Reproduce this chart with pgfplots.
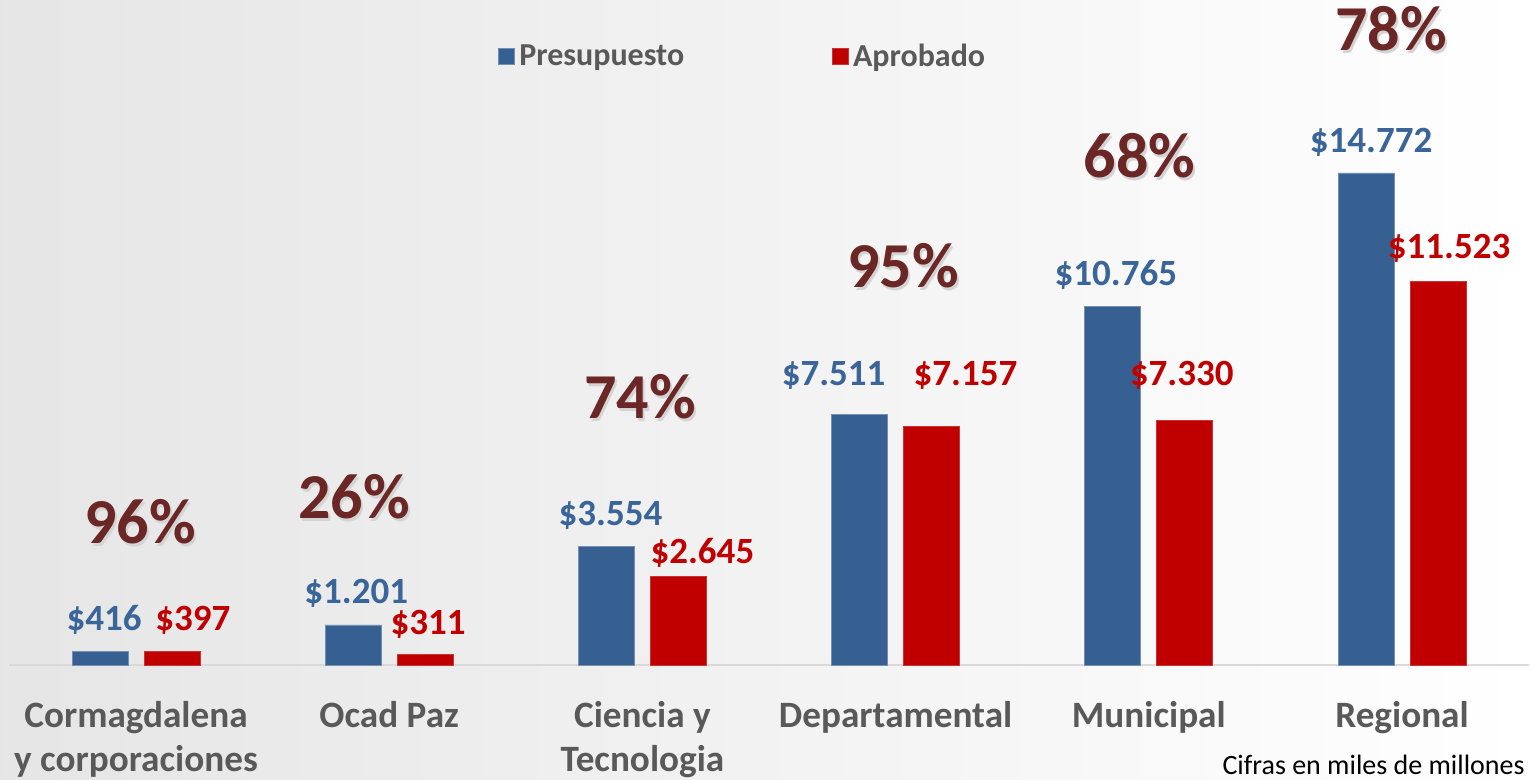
\documentclass[border=0pt]{standalone}
\usepackage{pgfplots}
\pgfplotsset{compat=1.18}
\usepackage{fontspec}
\setmainfont{Carlito}
\definecolor{cblue}{HTML}{376092}
\definecolor{cbluet}{HTML}{3A6598}
\definecolor{cred}{HTML}{C00000}
\definecolor{cpct}{HTML}{6B2626}
\definecolor{cgray}{HTML}{595959}
\tikzset{
  pct/.style={anchor=base, inner sep=0pt, font=\fontsize{32}{34}\selectfont\bfseries, text=cpct},
  pcts/.style={anchor=base, inner sep=0pt, font=\fontsize{32}{34}\selectfont\bfseries, text=black!17, xshift=1pt, yshift=-1.5pt},
  val/.style={anchor=base, inner sep=0pt, font=\fontsize{18.5}{20}\selectfont\bfseries},
}
\begin{document}
\begin{tikzpicture}
\shade[left color=black!10, right color=white] (-4.7pt,-57.5pt) rectangle (760.3pt,332.5pt);
\begin{axis}[
  at={(0,0)}, anchor=south west,
  scale only axis, width=759.6pt, height=332.5pt,
  xmin=-0.5, xmax=5.5, ymin=0, ymax=19966,
  clip=false,
  axis line style={draw=none},
  ytick=\empty,
  ybar=8pt, bar width=28pt,
  xtick={0,1,2,3,4,5},
  xticklabels={{Cormagdalena\\y corporaciones},{Ocad Paz},{Ciencia y\\Tecnologia},{Departamental},{Municipal},{Regional}},
  xticklabel style={align=center, anchor=north, inner sep=0pt, yshift=-18pt, text=cgray,
    font=\fontsize{18.6}{21.8}\selectfont\bfseries},
  xtick style={draw=none},
  major tick length=0pt,
  legend columns=2,
  legend style={at={(axis cs:1.43,18270)}, anchor=west, draw=none, fill=none, inner sep=0pt,
    font=\fontsize{16}{18}\selectfont\bfseries, text=cgray,
    /tikz/every even column/.append style={column sep=72pt}},
  legend image code/.code={\fill[#1] (0pt,-4pt) rectangle (8pt,4pt);},
]
\draw[black!15, line width=1pt] (axis cs:-0.5,0) -- (axis cs:5.5,0);
\addplot[fill=cblue, draw=cblue!70!white] coordinates {(0,416) (1,1201) (2,3554) (3,7511) (4,10765) (5,14772)};
\addplot[fill=cred, draw=cred!80!white] coordinates {(0,397) (1,311) (2,2645) (3,7157) (4,7330) (5,11523)};
\legend{Presupuesto, Aprobado}
\node[val, text=cbluet] at (axis cs:-0.126,1050) {\$416};
\node[val, text=cred] at (axis cs:0.225,1050) {\$397};
\node[val, text=cbluet] at (axis cs:0.870,1860) {\$1.201};
\node[val, text=cred] at (axis cs:1.154,930) {\$311};
\node[val, text=cbluet] at (axis cs:1.874,4200) {\$3.554};
\node[val, text=cred] at (axis cs:2.237,3060) {\$2.645};
\node[val, text=cbluet] at (axis cs:2.755,8400) {\$7.511};
\node[val, text=cred] at (axis cs:3.276,8400) {\$7.157};
\node[val, text=cbluet] at (axis cs:3.870,11400) {\$10.765};
\node[val, text=cred] at (axis cs:4.130,8400) {\$7.330};
\node[val, text=cbluet] at (axis cs:4.878,15390) {\$14.772};
\node[val, text=cred] at (axis cs:5.186,12210) {\$11.523};
\node[pcts] at (axis cs:0.016,3660) {96\%};
\node[pct] at (axis cs:0.016,3660) {96\%};
\node[pcts] at (axis cs:0.862,4410) {26\%};
\node[pct] at (axis cs:0.862,4410) {26\%};
\node[pcts] at (axis cs:1.99,7410) {74\%};
\node[pct] at (axis cs:1.99,7410) {74\%};
\node[pcts] at (axis cs:3.03,11340) {95\%};
\node[pct] at (axis cs:3.03,11340) {95\%};
\node[pcts] at (axis cs:3.964,14640) {68\%};
\node[pct] at (axis cs:3.964,14640) {68\%};
\node[pcts] at (axis cs:4.957,18450) {78\%};
\node[pct] at (axis cs:4.957,18450) {78\%};
\node[anchor=base east, inner sep=0pt, font=\fontsize{14}{16}\selectfont] at (axis cs:5.486,-3300) {Cifras en miles de millones};
\end{axis}
\pgfresetboundingbox
\path (-4.7pt,-57.5pt) rectangle (760.3pt,332.5pt);
\end{tikzpicture}
\end{document}
